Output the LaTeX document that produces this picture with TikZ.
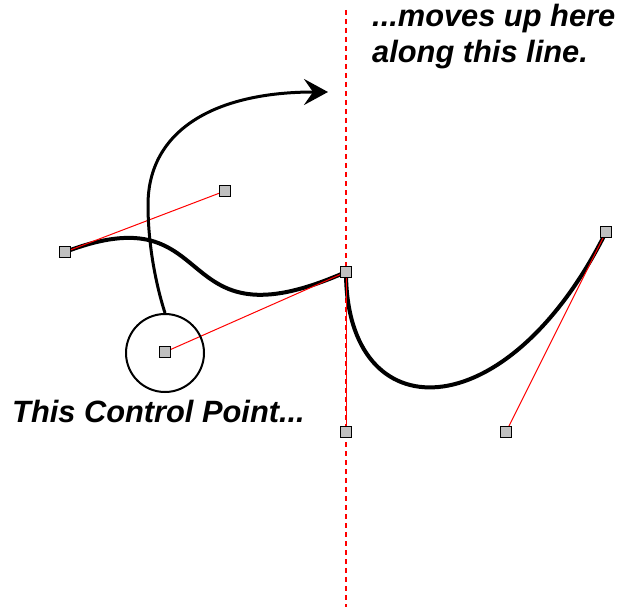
\documentclass[tikz,border=0pt]{standalone}
\usepackage{fontspec}
\setmainfont{Liberation Sans}
\usetikzlibrary{arrows.meta}
\begin{document}
\begin{tikzpicture}[x=1pt,y=-1pt,
  handle/.style={draw=black,line width=1pt,fill={rgb,255:red,192;green,192;blue,192},minimum size=11pt,inner sep=0pt,outer sep=0pt},
  ctrlline/.style={draw=red,line width=1pt},
  guide/.style={draw=red,line width=1.2pt,dash pattern=on 5pt off 4pt},
  curve/.style={draw=black,line width=4pt},
  label/.style={font=\fontsize{30.8}{36}\selectfont\bfseries\itshape,inner sep=0pt,anchor=base west,align=left}]
\useasboundingbox (0,0) rectangle (621,607);
% guide line
\coordinate (gtop) at (346,10);
\coordinate (gbot) at (346,607);
\draw[guide] (gtop) -- (gbot);
% handle positions
\coordinate (P0) at (65,252);
\coordinate (C1) at (225,191);
\coordinate (C2) at (165,352);
\coordinate (P1) at (346,272);
\coordinate (C3) at (346,432);
\coordinate (C4) at (506,432);
\coordinate (P2) at (606,232);
% bezier curve
\draw[curve] (P0) .. controls (C1) and (C2) .. (P1) .. controls (C3) and (C4) .. (P2);
% control lines
\draw[ctrlline] (P0) -- (C1);
\draw[ctrlline] (C2) -- (P1);
\draw[ctrlline] (P1) -- (C3);
\draw[ctrlline] (C4) -- (P2);
% circle
\node[draw=black,line width=2pt,circle,minimum size=78pt,inner sep=0pt] (ring) at (165,353) {};
% arrow
\coordinate (atip) at (328,92);
\draw[line width=3pt,-{Stealth[length=24pt,width=26pt,inset=9pt]}]
  (ring.north) .. controls (156,285) and (148,245) .. (148,205)
  .. controls (148,130) and (215,92) .. (atip);
% handles
\foreach \p in {P0,C1,C2,P1,C3,C4,P2}{
  \node[handle] (h\p) at (\p) {};
}
% labels
\node[label] (t1) at (372,63) {...moves up here\\along this line.};
\node[label] (t2) at (12,422) {This Control Point...};
\end{tikzpicture}
\end{document}
